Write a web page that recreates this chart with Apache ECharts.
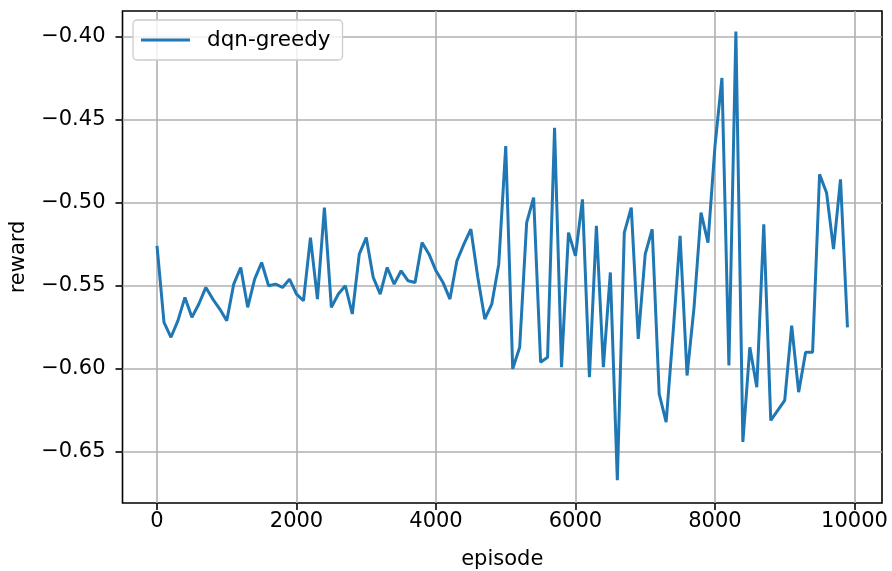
<!DOCTYPE html>
<html>
<head>
<meta charset="utf-8">
<script src="https://cdn.jsdelivr.net/npm/echarts@6/dist/echarts.min.js"></script>
<style>
  html, body { margin: 0; padding: 0; background: #fff; }
  #main { width: 892px; height: 571px; }
</style>
</head>
<body>
<div id="main"></div>
<script>
// episode 0..9900
var episodes = [
  0, 100, 200, 300, 400, 500, 600, 700, 800, 900,
  1000, 1100, 1200, 1300, 1400, 1500, 1600, 1700, 1800, 1900,
  2000, 2100, 2200, 2300, 2400, 2500, 2600, 2700, 2800, 2900,
  3000, 3100, 3200, 3300, 3400, 3500, 3600, 3700, 3800, 3900,
  4000, 4100, 4200, 4300, 4400, 4500, 4600, 4700, 4800, 4900,
  5000, 5100, 5200, 5300, 5400, 5500, 5600, 5700, 5800, 5900,
  6000, 6100, 6200, 6300, 6400, 6500, 6600, 6700, 6800, 6900,
  7000, 7100, 7200, 7300, 7400, 7500, 7600, 7700, 7800, 7900,
  8000, 8100, 8200, 8300, 8400, 8500, 8600, 8700, 8800, 8900,
  9000, 9100, 9200, 9300, 9400, 9500, 9600, 9700, 9800, 9900
];
// dqn-greedy reward
var rewards = [
  -0.526, -0.572, -0.581, -0.571, -0.557, -0.569, -0.561, -0.551, -0.558, -0.564,
  -0.571, -0.549, -0.539, -0.563, -0.546, -0.536, -0.550, -0.549, -0.551, -0.546,
  -0.555, -0.559, -0.521, -0.558, -0.503, -0.563, -0.555, -0.550, -0.567, -0.531,
  -0.521, -0.545, -0.555, -0.539, -0.549, -0.541, -0.547, -0.548, -0.524, -0.531,
  -0.541, -0.548, -0.558, -0.535, -0.525, -0.516, -0.545, -0.570, -0.561, -0.537,
  -0.466, -0.600, -0.587, -0.512, -0.497, -0.596, -0.593, -0.455, -0.599, -0.518,
  -0.532, -0.498, -0.605, -0.514, -0.599, -0.542, -0.667, -0.518, -0.503, -0.582,
  -0.531, -0.516, -0.615, -0.632, -0.578, -0.520, -0.604, -0.563, -0.506, -0.524,
  -0.466, -0.425, -0.598, -0.397, -0.644, -0.587, -0.611, -0.513, -0.631, -0.625,
  -0.619, -0.574, -0.614, -0.590, -0.590, -0.483, -0.494, -0.528, -0.486, -0.575
];
var xTicks = [0, 2000, 4000, 6000, 8000, 10000];
var yTicks = [-0.65, -0.60, -0.55, -0.50, -0.45, -0.40];

var seriesData = [];
for (var i = 0; i < episodes.length; i++) {
  seriesData.push([episodes[i], rewards[i]]);
}

var font = 'DejaVu Sans';
var chart = echarts.init(document.getElementById('main'));
var option = {
  backgroundColor: '#fff',
  animation: false,
  textStyle: { fontFamily: font },
  grid: {
    left: 122.5, right: 10, top: 11, bottom: 68,
    show: true, borderColor: '#000', borderWidth: 1.6,
    outerBoundsMode: 'none'
  },
  legend: {
    left: 133, top: 20,
    padding: [9, 12, 9, 8],
    backgroundColor: 'rgba(255,255,255,0.8)',
    borderColor: '#cccccc', borderWidth: 1.3, borderRadius: 4,
    itemWidth: 49, itemHeight: 3,
    icon: 'rect',
    textStyle: { fontFamily: font, fontSize: 21.5, color: '#000', padding: [0, 0, 0, 12] },
    data: ['dqn-greedy']
  },
  xAxis: {
    type: 'value',
    min: -495, max: 10395,
    name: 'episode', nameLocation: 'middle', nameGap: 46,
    nameTextStyle: { fontFamily: font, fontSize: 21, color: '#000' },
    axisLine: { show: false, onZero: false },
    axisTick: { show: true, length: 7, customValues: xTicks, lineStyle: { color: '#000', width: 1.6 } },
    axisLabel: {
      customValues: xTicks, margin: 8,
      fontFamily: font, fontSize: 21, color: '#000',
      formatter: function (v) { return String(v); }
    },
    splitLine: { show: true, lineStyle: { color: '#b0b0b0', width: 1.6 } }
  },
  yAxis: {
    type: 'value',
    min: -0.6807, max: -0.3847,
    name: 'reward', nameLocation: 'middle', nameGap: 93,
    nameTextStyle: { fontFamily: font, fontSize: 21, color: '#000' },
    axisLine: { show: false, onZero: false },
    axisTick: { show: true, length: 7, customValues: yTicks, lineStyle: { color: '#000', width: 1.6 } },
    axisLabel: {
      customValues: yTicks, margin: 17,
      fontFamily: font, fontSize: 21, color: '#000',
      formatter: function (v) { return '\u2212' + Math.abs(v).toFixed(2); }
    },
    splitLine: { show: true, lineStyle: { color: '#b0b0b0', width: 1.6 } }
  },
  series: [{
    name: 'dqn-greedy',
    type: 'line',
    data: seriesData,
    showSymbol: false,
    symbol: 'none',
    color: '#1f77b4',
    lineStyle: { color: '#1f77b4', width: 3 }
  }]
};
chart.setOption(option);
</script>
</body>
</html>
